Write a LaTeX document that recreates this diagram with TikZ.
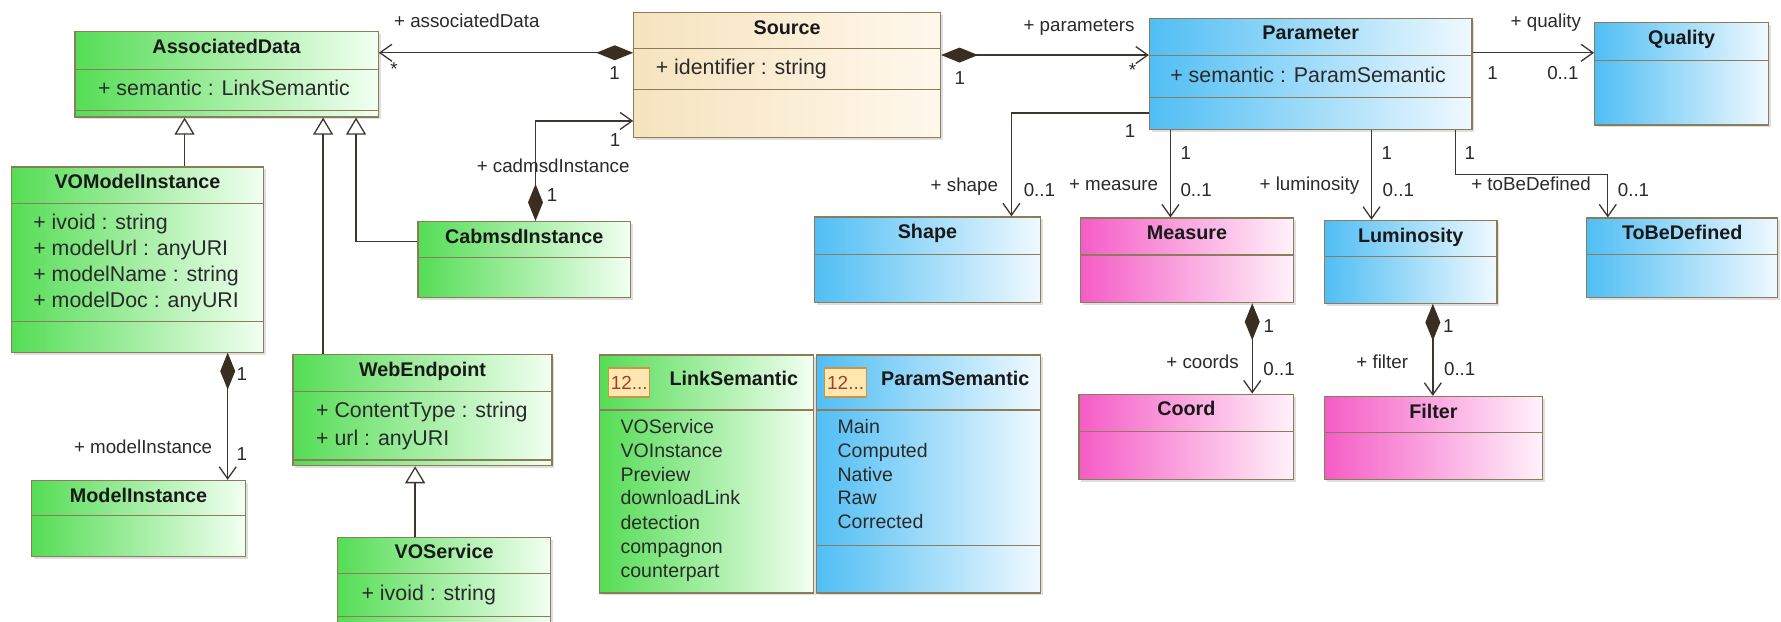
\documentclass[tikz,border=0pt]{standalone}
\usepackage{fontspec}
\setmainfont{Liberation Sans}
\usetikzlibrary{arrows.meta,fit,shadows,calc}
\definecolor{bdr}{HTML}{8C7D5A}
\definecolor{lnc}{HTML}{3C3630}
\definecolor{dia}{HTML}{3A2E20}
\definecolor{txt}{HTML}{2A2A2A}
\definecolor{gL}{HTML}{55DD55}
\definecolor{gR}{HTML}{F2FFF2}
\definecolor{bL}{HTML}{50BEF4}
\definecolor{bR}{HTML}{F0F9FF}
\definecolor{pL}{HTML}{F55CC6}
\definecolor{pR}{HTML}{FFF2FA}
\definecolor{sL}{HTML}{F6E3BE}
\definecolor{sR}{HTML}{FFF8EC}
\definecolor{icf}{HTML}{FFE8B0}
\definecolor{icb}{HTML}{C8964A}
\definecolor{ict}{HTML}{A0402A}
\tikzset{
 box/.style={draw=bdr, line width=0.6pt, inner sep=0pt, drop shadow={shadow xshift=1.2pt, shadow yshift=-1.2pt, opacity=0.25}},
 gbox/.style={box, left color=gL, right color=gR},
 bbox/.style={box, left color=bL, right color=bR},
 pbox/.style={box, left color=pL, right color=pR},
 sbox/.style={box, left color=sL, right color=sR},
 dv/.style={draw=bdr, line width=0.6pt},
 ttl/.style={font=\bfseries\fontsize{9.9}{12}\selectfont, inner sep=0pt, text=black!90, text height=7.2pt, text depth=2pt},
 att/.style={font=\fontsize{10.7}{13}\selectfont, inner sep=0pt, anchor=west, text=txt, text height=7.8pt, text depth=2.2pt},
 lit/.style={font=\fontsize{9.8}{12}\selectfont, inner sep=0pt, anchor=west, text=txt, text height=7.1pt, text depth=2pt},
 lbl/.style={font=\fontsize{9.4}{11}\selectfont, inner sep=0pt, text=txt, text height=6.8pt, text depth=1.9pt},
 ln/.style={draw=lnc, line width=0.65pt},
 nav/.style={ln, -{Straight Barb[length=6pt,width=8.5pt]}},
 comp/.style={ln, {Diamond[length=18.5pt,width=7.5pt,color=dia]}-{Straight Barb[length=6pt,width=8.5pt]}},
 gen/.style={ln, -{Triangle[open,length=8.5pt,width=10pt,fill=white]}},
 icon/.style={draw=icb, fill=icf, line width=0.6pt, font=\fontsize{9.5}{11}\selectfont, text=ict, inner sep=0pt},
}
\newcommand{\ucls}[7]{%
  \node[#2, fit={(#3,#4) (#5,#6)}] (#1) {};
  \node[ttl] (#1-t) at ({(#3+#5)/2},{#4+14.5}) {#7};
}
\newcommand{\udiv}[3]{\draw[dv] (#1,#3) -- (#2,#3);}
\begin{document}
\begin{tikzpicture}[x=0.02cm,y=-0.02cm]
\useasboundingbox (0,0) rectangle (1568,547);
\clip (0,0) rectangle (1568,547);
\fill[white] (0,0) rectangle (1568,547);

% ---------- classes ----------
\ucls{ad}{gbox}{66}{28}{333}{103}{AssociatedData}
\udiv{66}{333}{61}\udiv{66}{333}{97.5}
\node[att] (ad-a1) at (86,79) {+ semantic : LinkSemantic};

\ucls{src}{sbox}{558}{11}{828}{121}{Source}
\udiv{558}{828}{43}\udiv{558}{828}{79}
\node[att] (src-a1) at (577,61) {+ identifier : string};

\ucls{par}{bbox}{1012}{16}{1296}{114}{Parameter}
\udiv{1012}{1296}{49}\udiv{1012}{1296}{86}
\node[att] (par-a1) at (1030,67.5) {+ semantic : ParamSemantic};

\ucls{q}{bbox}{1404}{20}{1557}{110}{Quality}
\udiv{1404}{1557}{53}

\ucls{vom}{gbox}{10}{147}{232}{310}{VOModelInstance}
\udiv{10}{232}{179}\udiv{10}{232}{283}
\node[att] (vom-a1) at (29,197) {+ ivoid : string};
\node[att] (vom-a2) at (29,220) {+ modelUrl : anyURI};
\node[att] (vom-a3) at (29,243) {+ modelName : string};
\node[att] (vom-a4) at (29,266) {+ modelDoc : anyURI};

\ucls{cab}{gbox}{368}{195}{555}{262}{CabmsdInstance}
\udiv{368}{555}{227}

\ucls{web}{gbox}{258}{312}{486}{410}{WebEndpoint}
\udiv{258}{486}{345}\udiv{258}{486}{405}
\node[att] (web-a1) at (278,363) {+ ContentType : string};
\node[att] (web-a2) at (278,387) {+ url : anyURI};

\ucls{vos}{gbox}{297}{473}{485}{600}{VOService}
\udiv{297}{485}{505}\udiv{297}{485}{542.5}
\node[att] (vos-a1) at (318,524) {+ ivoid : string};

\ucls{mi}{gbox}{28}{423}{216}{490}{ModelInstance}
\udiv{28}{216}{454}

\ucls{shape}{bbox}{717}{191}{916}{266.5}{Shape}
\udiv{717}{916}{224}
\ucls{meas}{pbox}{951}{192}{1139}{266.5}{Measure}
\udiv{951}{1139}{224.5}
\ucls{lum}{bbox}{1166}{194}{1318}{267}{Luminosity}
\udiv{1166}{1318}{226}
\ucls{tbd}{bbox}{1397}{192}{1565}{262}{ToBeDefined}
\udiv{1397}{1565}{224}
\ucls{coord}{pbox}{950}{347}{1139}{422}{Coord}
\udiv{950}{1139}{380}
\ucls{filt}{pbox}{1166}{349}{1358}{422}{Filter}
\udiv{1166}{1358}{381}

% ---------- enumerations ----------
\node[gbox, fit={(528,312.5) (716,522)}] (lsem) {};
\udiv{528}{716}{361}
\node[icon, fit={(536,324) (572,349.5)}] (lsem-i) {};
\node[icon, draw=none, fill=none] (lsem-it) at (lsem-i.center) {12...};
\node[ttl] (lsem-t) at (646,335) {LinkSemantic};
\node[lit] (ls1) at (546,377) {VOService};
\node[lit] (ls2) at (546,398) {VOInstance};
\node[lit] (ls3) at (546,419) {Preview};
\node[lit] (ls4) at (546,440) {downloadLink};
\node[lit] (ls5) at (546,461.5) {detection};
\node[lit] (ls6) at (546,483) {compagnon};
\node[lit] (ls7) at (546,504) {counterpart};

\node[bbox, fit={(719,312.5) (916,522)}] (psem) {};
\udiv{719}{916}{361}\udiv{719}{916}{480}
\node[icon, fit={(726,324) (763,349.5)}] (psem-i) {};
\node[icon, draw=none, fill=none] (psem-it) at (psem-i.center) {12...};
\node[ttl] (psem-t) at (841,335) {ParamSemantic};
\node[lit] (ps1) at (737,377) {Main};
\node[lit] (ps2) at (737,398) {Computed};
\node[lit] (ps3) at (737,419) {Native};
\node[lit] (ps4) at (737,440) {Raw};
\node[lit] (ps5) at (737,461) {Corrected};

% ---------- connectors ----------
% Source -> AssociatedData
\coordinate (p1) at ($(src.north west)+(0,36)$);
\draw[comp] (p1) -- (p1 -| ad.east);
\node[lbl] (l1a) at (411,20) {+ associatedData};
\node[lbl] (l1b) at (347,62) {*};
\node[lbl] (l1c) at (541,66) {1};

% Source -> Parameter
\coordinate (p2) at ($(src.north east)+(0,38)$);
\draw[comp] (p2) -- (p2 -| par.west);
\node[lbl] (l2a) at (950,23) {+ parameters};
\node[lbl] (l2b) at (845,70) {1};
\node[lbl] (l2c) at (997,63) {*};

% Parameter -> Quality
\coordinate (p3) at ($(par.north east)+(0,31)$);
\draw[nav] (p3) -- (p3 -| q.west);
\node[lbl] (l3a) at (1361,20) {+ quality};
\node[lbl] (l3b) at (1314,66) {1};
\node[lbl] (l3c) at (1376,66) {0..1};

% CabmsdInstance -> Source
\coordinate (p4a) at ($(cab.north west)+(104,0)$);
\coordinate (p4b) at ($(src.north west)+(0,96)$);
\draw[comp] (p4a) |- (p4b);
\node[lbl] (l4a) at (541.5,125) {1};
\node[lbl] (l4b) at (487,148) {+ cadmsdInstance};
\node[lbl] (l4c) at (486,173) {1};

% generalizations to AssociatedData
\coordinate (p5a) at ($(cab.north west)+(0,18)$);
\coordinate (p5b) at ($(ad.south west)+(248,0)$);
\draw[gen] (p5a) -| (p5b);
\coordinate (p6) at ($(vom.north west)+(153,0)$);
\draw[gen] (p6) -- (p6 |- ad.south);
\coordinate (p7) at ($(web.north west)+(27,0)$);
\draw[gen] (p7) -- (p7 |- ad.south);
% VOService -> WebEndpoint
\coordinate (p8) at ($(vos.north west)+(69,0)$);
\draw[gen] (p8) -- (p8 |- web.south);

% VOModelInstance -> ModelInstance
\coordinate (p9) at ($(vom.south west)+(191,0)$);
\draw[comp] (p9) -- (p9 |- mi.north);
\node[lbl] (l9a) at (213,331) {1};
\node[lbl] (l9b) at (126,395) {+ modelInstance};
\node[lbl] (l9c) at (213,401) {1};

% Parameter -> Shape
\coordinate (p10a) at ($(par.north west)+(0,84)$);
\coordinate (p10b) at ($(shape.north west)+(174,0)$);
\draw[nav] (p10a) -| (p10b);
\node[lbl] (l10a) at (995,117) {1};
\node[lbl, anchor=east] (l10b) at (879,164) {+ shape};
\node[lbl, anchor=west] (l10c) at (901,169) {0..1};

% Parameter -> Measure
\coordinate (p11) at ($(meas.north west)+(80,0)$);
\draw[nav] (p11 |- par.south) -- (p11);
\node[lbl] (l11a) at (1044,136) {1};
\node[lbl, anchor=east] (l11b) at (1020,163) {+ measure};
\node[lbl, anchor=west] (l11c) at (1039,169) {0..1};

% Parameter -> Luminosity
\coordinate (p12) at ($(lum.north west)+(42,0)$);
\draw[nav] (p12 |- par.south) -- (p12);
\node[lbl] (l12a) at (1221,136) {1};
\node[lbl, anchor=east] (l12b) at (1197,163) {+ luminosity};
\node[lbl, anchor=west] (l12c) at (1217,169) {0..1};

% Parameter -> ToBeDefined
\coordinate (p13a) at ($(par.south west)+(270,0)$);
\coordinate (p13c) at ($(tbd.north west)+(19,0)$);
\draw[nav] (p13a) |- ($(p13c)+(0,-38)$) -- (p13c);
\node[lbl] (l13a) at (1294,136) {1};
\node[lbl, anchor=west] (l13b) at (1295,163) {+ toBeDefined};
\node[lbl, anchor=west] (l13c) at (1424,169) {0..1};

% Measure -> Coord
\coordinate (p14) at ($(meas.south west)+(152,0)$);
\draw[comp] (p14) -- (p14 |- coord.north);
\node[lbl] (l14a) at (1117,288) {1};
\node[lbl, anchor=east] (l14b) at (1091,320) {+ coords};
\node[lbl, anchor=west] (l14c) at (1112,326) {0..1};

% Luminosity -> Filter
\coordinate (p15) at ($(lum.south west)+(96,0)$);
\draw[comp] (p15) -- (p15 |- filt.north);
\node[lbl] (l15a) at (1275,288) {1};
\node[lbl, anchor=east] (l15b) at (1240,320) {+ filter};
\node[lbl, anchor=west] (l15c) at (1271,326) {0..1};
\end{tikzpicture}
\end{document}
